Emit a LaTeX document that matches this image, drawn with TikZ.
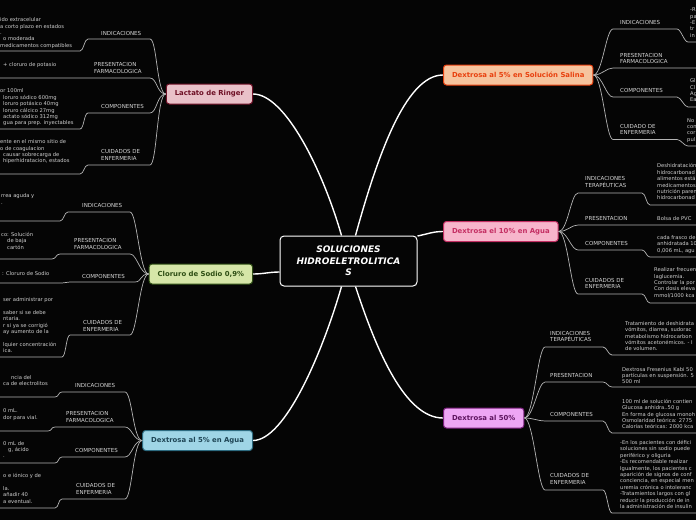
\documentclass[tikz,border=0pt]{standalone}
\usepackage{fontspec}
\setmainfont{DejaVu Sans}
\usetikzlibrary{calc}
\definecolor{bgc}{HTML}{050505}
\definecolor{lblc}{HTML}{D6D6D6}
\definecolor{detc}{HTML}{D0D0D0}
\definecolor{twigc}{HTML}{B4B4B4}
\definecolor{lacF}{HTML}{E9C1C9}\definecolor{lacD}{HTML}{6E0F25}
\definecolor{cloF}{HTML}{D6E6A8}\definecolor{cloD}{HTML}{2E4E14}
\definecolor{dagF}{HTML}{9FD5E6}\definecolor{dagD}{HTML}{2D6B80}\definecolor{dagT}{HTML}{1F4656}
\definecolor{dsalF}{HTML}{F6C49E}\definecolor{dsalD}{HTML}{E8400E}
\definecolor{dtenF}{HTML}{F7B5CB}\definecolor{dtenD}{HTML}{C42F63}
\definecolor{dfifF}{HTML}{EEA6F4}\definecolor{dfifD}{HTML}{7A1F7C}\definecolor{dfifT}{HTML}{5E145F}
% left sub-branch: name, from, x right, x left, y label line, x detail line, y detail line
\newcommand\leftbr[7]{%
  \coordinate (#1a) at (#3,#5);
  \coordinate (#1b) at (#4,#5);
  \coordinate (#1c) at (#6,#7);
  \coordinate (#1d) at (0,#7);
  \draw[twig] (#2) .. controls +(-9,0) and +(7,0) .. (#1a) -- (#1b)
     .. controls +(-4,0) and +(4,0) .. (#1c) -- (#1d);}
% right sub-branch: name, from, x left, x right, y label line, x detail line, y detail line
\newcommand\rightbr[7]{%
  \coordinate (#1a) at (#3,#5);
  \coordinate (#1b) at (#4,#5);
  \coordinate (#1c) at (#6,#7);
  \coordinate (#1d) at (696,#7);
  \draw[twig] (#2) .. controls +(9,0) and +(-7,0) .. (#1a) -- (#1b)
     .. controls +(4,0) and +(-4,0) .. (#1c) -- (#1d);}
\begin{document}
\begin{tikzpicture}[x=1pt,y=-1pt,
  lbl/.style={font=\fontsize{5.5}{6.5}\selectfont, text=lblc, inner sep=0pt, text depth=0pt, align=left, anchor=south west},
  det/.style={font=\fontsize{5.2}{6.4}\selectfont, text=detc, inner sep=0pt, text depth=0pt, align=left, anchor=south west},
  mainbox/.style={rounded corners=3pt, line width=1pt, minimum height=20pt, inner xsep=8.5pt, inner ysep=0pt, font=\fontsize{6.9}{8}\selectfont\bfseries},
  trunk/.style={draw=white, line width=1.4pt},
  twig/.style={draw=twigc, line width=0.7pt}]
\fill[bgc] (0,0) rectangle (696,520);
\useasboundingbox (0,0) rectangle (696,520);

% central node
\node[draw=white, line width=1pt, rounded corners=4pt, fill=bgc, text=white,
  minimum width=137pt, minimum height=50pt, align=center,
  font=\fontsize{9}{11.5}\selectfont\bfseries\itshape] (cen) at (348.5,261)
  {SOLUCIONES\\HIDROELETROLITICA\\S};

% main nodes
\node[mainbox, fill=lacF, draw=lacD, text=lacD, anchor=east] (lac) at (253,94) {Lactato de Ringer};
\node[mainbox, fill=cloF, draw=cloD, text=cloD, anchor=east] (clo) at (253,274) {Cloruro de Sodio 0,9\%};
\node[mainbox, fill=dagF, draw=dagD, text=dagT, anchor=east] (dag) at (253,440.5) {Dextrosa al 5\% en Agua};
\node[mainbox, fill=dsalF, draw=dsalD, text=dsalD, anchor=west] (dsal) at (443,75) {Dextrosa al 5\% en Solución Salina};
\node[mainbox, fill=dtenF, draw=dtenD, text=dtenD, anchor=west] (dten) at (443,231.5) {Dextrosa el 10\% en Agua};
\node[mainbox, fill=dfifF, draw=dfifD, text=dfifT, anchor=west] (dfif) at (443,418) {Dextrosa al 50\%};

% trunks
\draw[trunk] ($(cen.north)+(-7,0)$) .. controls +(-19,-66) and +(32,0) .. (lac.east);
\draw[trunk] ($(cen.west)+(0,11)$) .. controls +(-10,0) and +(10,0) .. (clo.east);
\draw[trunk] ($(cen.south)+(-7,0)$) .. controls +(-19,66) and +(32,0) .. (dag.east);
\draw[trunk] ($(cen.north)+(7,0)$) .. controls +(21,-76) and +(-38,0) .. (dsal.west);
\draw[trunk] ($(cen.east)+(0,-25)$) .. controls +(10,-2) and +(-10,0) .. (dten.west);
\draw[trunk] ($(cen.south)+(7,0)$) .. controls +(21,64) and +(-38,0) .. (dfif.west);

% ---- Lactato de Ringer
\leftbr{lacI}{lac.west}{150}{88}{39}{80}{51}
\node[lbl] (lacIl) at (101,35.5) {INDICACIONES};
\node[det] (lacId) at (0,47.5) {ido extracelular\\a corto plazo en estados\\.\\\hspace*{3pt}o moderada\\medicamentos compatibles};
\leftbr{lacP}{lac.west}{150}{88}{78}{80}{78}
\node[lbl] (lacPl) at (94,73.5) {PRESENTACION\\FARMACOLOGICA};
\node[det] (lacPd) at (3,67) {+ cloruro de potasio};
\leftbr{lacC}{lac.west}{150}{88}{113}{80}{129}
\node[lbl] (lacCl) at (101,108.5) {COMPONENTES};
\node[det] (lacCd) at (0,125) {or 100ml\\\hspace*{3pt}loruro sódico 600mg\\\hspace*{3pt}loruro potásico 40mg\\\hspace*{3pt}loruro cálcico 27mg\\\hspace*{3pt}actato sódico 312mg\\\hspace*{3pt}gua para prep. inyectables};
\leftbr{lacU}{lac.west}{150}{88}{165}{80}{174}
\node[lbl] (lacUl) at (101,160.5) {CUIDADOS DE\\ENFERMERIA};
\node[det] (lacUd) at (0,163) {ente en el mismo sitio de\\o de coagulacion\\\hspace*{3pt}causar sobrecarga de\\\hspace*{3pt}hiperhidratacion, estados};

% ---- Cloruro de Sodio
\leftbr{cloI}{clo.west}{130}{68}{212}{60}{221}
\node[lbl] (cloIl) at (82,207.5) {INDICACIONES};
\node[det] (cloId) at (1,204.5) {rrea aguda y\\.};
\leftbr{cloP}{clo.west}{130}{60}{254}{52}{259}
\node[lbl] (cloPl) at (74,249.5) {PRESENTACION\\FARMACOLOGICA};
\node[det] (cloPd) at (1,249.5) {co: Solución\\\hspace*{6pt}de baja\\\hspace*{6pt}cartón};
\leftbr{cloC}{clo.west}{135}{70}{282}{62}{283}
\node[lbl] (cloCl) at (82,278.5) {COMPONENTES};
\node[det] (cloCd) at (2,275.5) {: Cloruro de Sodio};
\leftbr{cloU}{clo.west}{130}{70}{335}{62}{357}
\node[lbl] (cloUl) at (83,331.5) {CUIDADOS DE\\ENFERMERIA};
\node[det] (cloUd) at (3,353) {ser administrar por\\~\\saber si se debe\\ntaria.\\r si ya se corrigió\\ay aumento de la\\~\\lquier concentración\\ica.};

% ---- Dextrosa al 5% en Agua
\leftbr{dagI}{dag.west}{125}{62}{392}{55}{397}
\node[lbl] (dagIl) at (75,387.5) {INDICACIONES};
\node[det] (dagId) at (3,386) {\hspace*{8pt}ncia del\\ca de electrolitos};
\leftbr{dagP}{dag.west}{125}{55}{427}{48}{431}
\node[lbl] (dagPl) at (66,422.5) {PRESENTACION\\FARMACOLOGICA};
\node[det] (dagPd) at (3,419.5) {0 mL.\\dor para vial.};
\leftbr{dagC}{dag.west}{125}{62}{457}{55}{463}
\node[lbl] (dagCl) at (75,453) {COMPONENTES};
\node[det] (dagCd) at (3,458) {0 mL de\\\hspace*{5pt}g, ácido\\.};
\leftbr{dagU}{dag.west}{125}{62}{499}{55}{508}
\node[lbl] (dagUl) at (76,494.5) {CUIDADOS DE\\ENFERMERIA};
\node[det] (dagUd) at (3,503.5) {o e iónico y de\\~\\la.\\añadir 40\\a eventual.};

% ---- Dextrosa al 5% en Solucion Salina
\rightbr{dsalI}{dsal.east}{613}{677}{29}{688}{42}
\node[lbl] (dsalIl) at (620,25) {INDICACIONES};
\node[det] (dsalId) at (690,37.5) {-R\\pa\\-E\\tr\\in};
\rightbr{dsalP}{dsal.east}{613}{680}{68}{688}{68}
\node[lbl] (dsalPl) at (620,64) {PRESENTACION\\FARMACOLOGICA};
\rightbr{dsalC}{dsal.east}{613}{677}{97}{688}{107}
\node[lbl] (dsalCl) at (620,92.5) {COMPONENTES};
\node[det] (dsalCd) at (690,102) {Gl\\Cl\\Ag\\Ea};
\rightbr{dsalU}{dsal.east}{613}{677}{139.5}{688}{146}
\node[lbl] (dsalUl) at (620,135) {CUIDADO DE\\ENFERMERIA};
\node[det] (dsalUd) at (687,141.5) {No\\con\\cor\\pul};

% ---- Dextrosa el 10% en Agua
\rightbr{dtenI}{dten.east}{578}{642}{193}{650}{205}
\node[lbl] (dtenIl) at (585,187.5) {INDICACIONES\\TERAPÉUTICAS};
\node[det] (dtenId) at (657,200) {Deshidratación\\hidrocarbonad\\alimentos está\\medicamentos\\nutrición paren\\hidrocarbonad};
\rightbr{dtenP}{dten.east}{578}{645}{225}{650}{225}
\node[lbl] (dtenPl) at (585,220.5) {PRESENTACION};
\node[det] (dtenPd) at (657,220.5) {Bolsa de PVC};
\rightbr{dtenC}{dten.east}{578}{642}{250}{650}{257}
\node[lbl] (dtenCl) at (585,246) {COMPONENTES};
\node[det] (dtenCd) at (657,252.5) {cada frasco de\\anhidratada 10\\0,006 mL, agu};
\rightbr{dtenU}{dten.east}{578}{642}{294}{650}{303}
\node[lbl] (dtenUl) at (585,289) {CUIDADOS DE\\ENFERMERIA};
\node[det] (dtenUd) at (654,297.5) {Realizar frecuen\\laglucemia.\\Controlar la por\\Con dosis eleva\\mmol/1000 kca};

% ---- Dextrosa al 50%
\rightbr{dfifI}{dfif.east}{545}{603}{347}{612}{355}
\node[lbl] (dfifIl) at (550,342) {INDICACIONES\\TERAPÉUTICAS};
\node[det] (dfifId) at (625,351) {Tratamiento de deshidrata\\vómitos, diarrea, sudorac\\metabolismo hidrocarbon\\vómitos acetonémicos. - I\\de volumen.};
\rightbr{dfifP}{dfif.east}{545}{603}{382}{612}{387}
\node[lbl] (dfifPl) at (550,377.5) {PRESENTACION};
\node[det] (dfifPd) at (622,384) {Dextrosa Fresenius Kabi 50\\partículas en suspensión. 5\\500 ml};
\rightbr{dfifC}{dfif.east}{545}{603}{421}{612}{433}
\node[lbl] (dfifCl) at (550,416.5) {COMPONENTES};
\node[det] (dfifCd) at (622,429) {100 ml de solución contien\\Glucosa anhidra..50 g\\En forma de glucosa monoh\\Osmolaridad teórica: 2775\\Calorías teóricas: 2000 kca};
\rightbr{dfifU}{dfif.east}{545}{603}{490}{612}{513}
\node[lbl] (dfifUl) at (550,484.5) {CUIDADOS DE\\ENFERMERIA};
\node[det] (dfifUd) at (620,508.7) {-En los pacientes con défici\\soluciones sin sodio puede\\periférico y oliguria\\-Es recomendable realizar\\Igualmente, los pacientes c\\aparición de signos de conf\\conciencia, en especial men\\uremia crónica o intoleranc\\-Tratamientos largos con gl\\reducir la producción de in\\la administración de insulin};
\end{tikzpicture}
\end{document}
